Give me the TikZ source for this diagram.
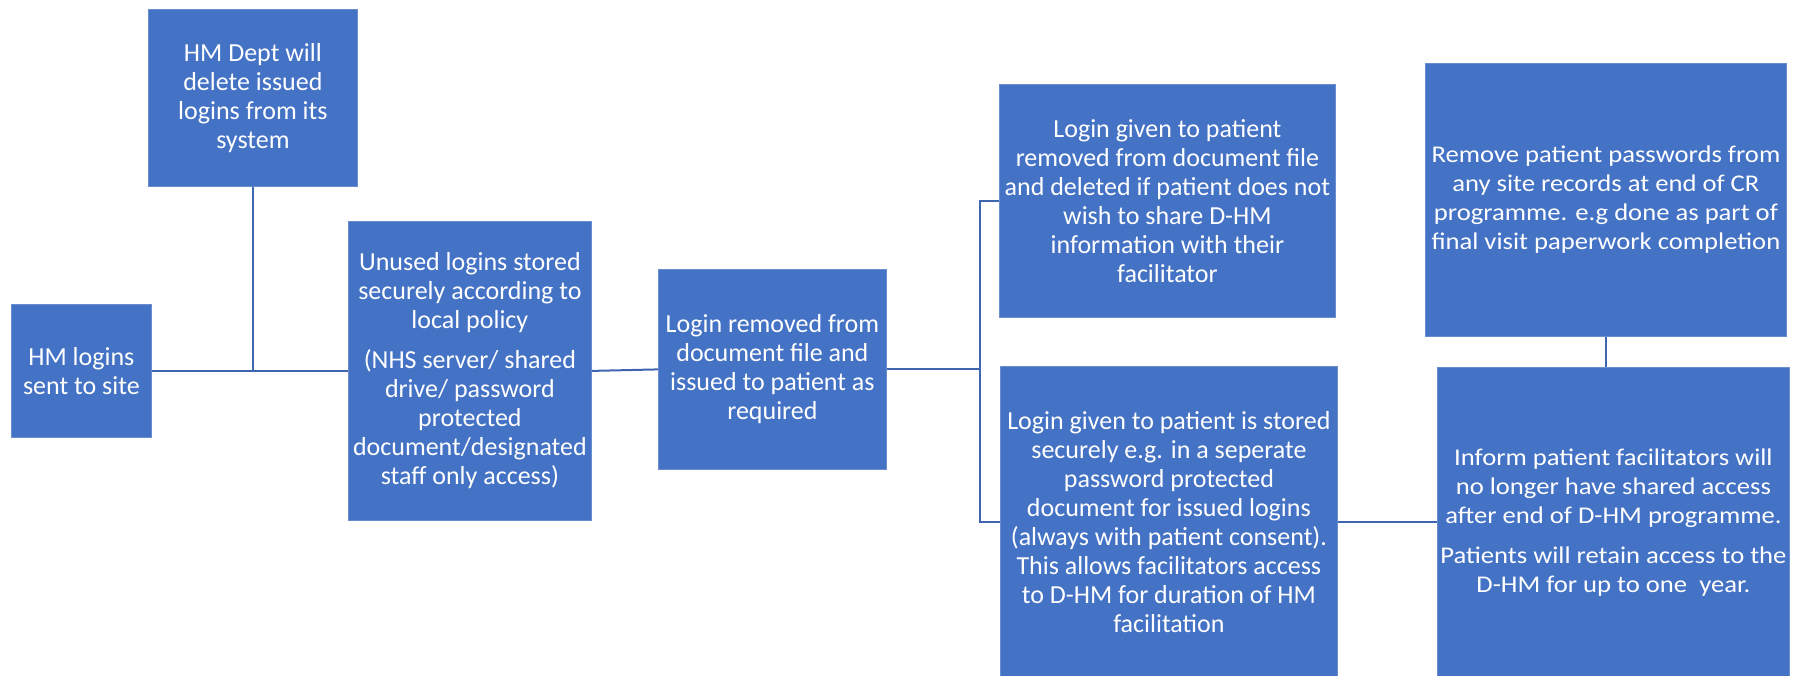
\documentclass[tikz,border=0pt]{standalone}
\usepackage{fontspec}
\setmainfont{Carlito}
\newfontfamily\widefont{Carlito}[FakeStretch=1.11]
\definecolor{boxblue}{HTML}{4472C4}
\definecolor{boxedge}{HTML}{6A8DD0}
\definecolor{linkblue}{HTML}{3F64B0}
\begin{document}
\begin{tikzpicture}[x=1pt,y=-1pt,
  box/.style={draw=boxedge, line width=0.8pt, fill=boxblue, text=white, inner sep=0pt,
    align=center, anchor=north west, font=\fontsize{26}{29}\selectfont},
  widebox/.style={box, font=\widefont\fontsize{24}{29}\selectfont},
  link/.style={draw=linkblue, line width=2pt}]
\useasboundingbox (0,0) rectangle (1798,675);

\node[box, minimum width=140pt, minimum height=133pt] (b1) at (11,304)
  {HM logins\\sent to site};
\node[box, minimum width=209pt, minimum height=177pt] (b2) at (148,9)
  {HM Dept will\\delete issued\\logins from its\\system};
\node[box, minimum width=243pt, minimum height=299pt] (b3) at (348,221)
  {Unused logins stored\\securely according to\\local policy\\[11pt]
   (NHS server/ shared\\drive/ password\\protected\\document/designated\\staff only access)};
\node[box, minimum width=228pt, minimum height=200pt] (b4) at (658,269)
  {Login removed from\\document file and\\issued to patient as\\required};
\node[box, minimum width=336pt, minimum height=233pt] (b5) at (999,84)
  {Login given to patient\\removed from document file\\and deleted if patient does not\\wish to share D-HM\\information with their\\facilitator};
\node[box, minimum width=337pt, minimum height=312pt] (b6) at (1000,366)
  {Login given to patient is stored\\securely e.g. in a seperate\\password protected\\document for issued logins\\(always with patient consent).\\This allows facilitators access\\to D-HM for duration of HM\\facilitation};
\node[widebox, minimum width=361pt, minimum height=273pt] (b7) at (1425,63)
  {Remove patient passwords from\\any site records at end of CR\\programme. e.g done as part of\\final visit paperwork completion};
\node[widebox, minimum width=352pt, minimum height=311pt] (b8) at (1437,367)
  {Inform patient facilitators will\\no longer have shared access\\after end of D-HM programme.\\[11pt]
   Patients will retain access to the\\D-HM for up to one~ year.};

\draw[link] (b1.east) -- (b3.west);
\draw[link] (b2.south) -- (b2.south |- b1.east);
\draw[link] (b3.east) -- (b4.west);
\draw[link] (b4.east) -- ++(93,0) coordinate (j);
\draw[link] (b5.west) -| (j) |- (b6.west);
\draw[link] (b6.east) -- (b6.east -| b8.west);
\draw[link] (b7.south) -- (b7.south |- b8.north);
\end{tikzpicture}
\end{document}
